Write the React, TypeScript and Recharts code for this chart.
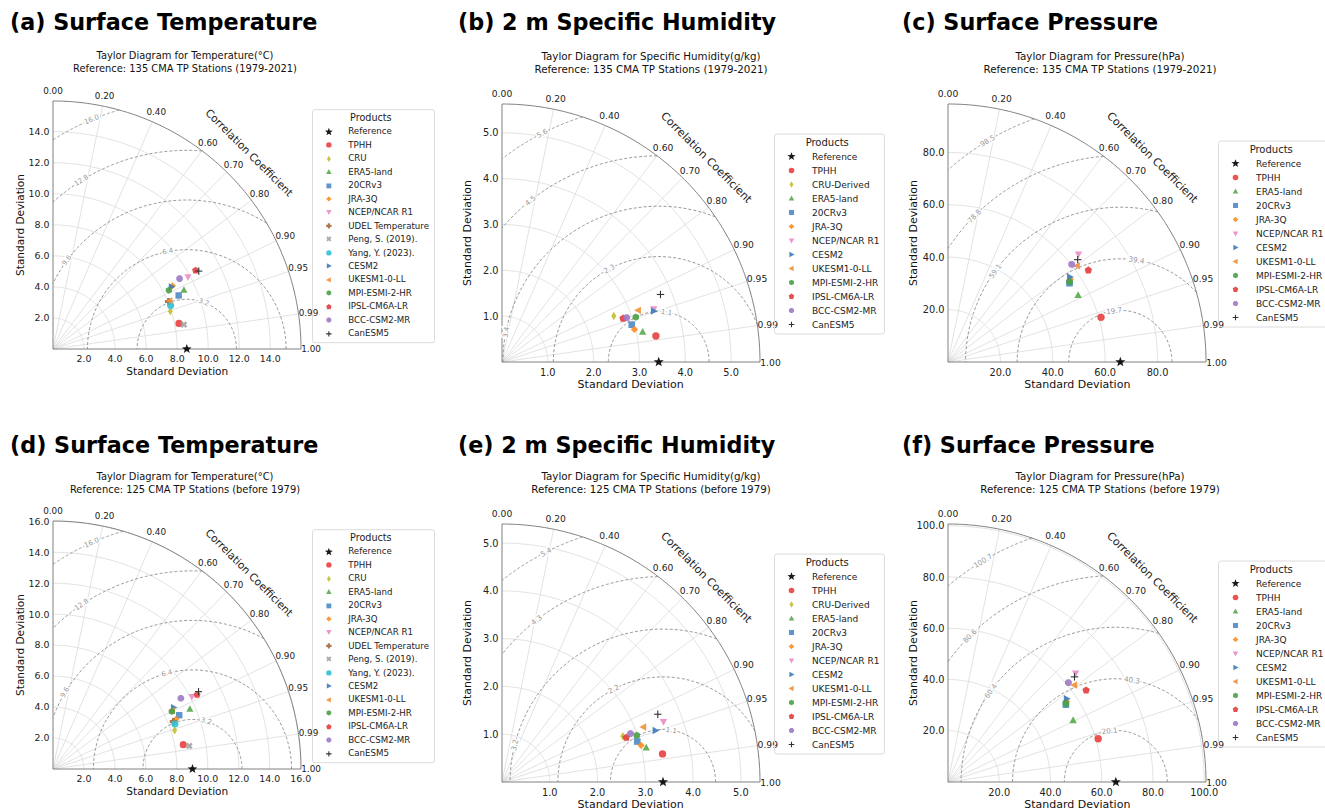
import React from 'react';
import { ComposedChart, Line, Scatter, XAxis, YAxis } from 'recharts';

const FONT = '"DejaVu Sans", "Liberation Sans", sans-serif';

// correlation ticks on the outer arc
const CORR_TICKS = [0, 0.2, 0.4, 0.6, 0.7, 0.8, 0.9, 0.95, 0.99, 1.0];

const TEMP_NAMES = ['TPHH', 'CRU', 'ERA5-land', '20CRv3', 'JRA-3Q', 'NCEP/NCAR R1', 'UDEL Temperature', 'Peng, S. (2019).',
  'Yang, Y. (2023).', 'CESM2', 'UKESM1-0-LL', 'MPI-ESMI-2-HR', 'IPSL-CM6A-LR', 'BCC-CSM2-MR', 'CanESM5'];
const HUM_NAMES = ['TPHH', 'CRU-Derived', 'ERA5-land', '20CRv3', 'JRA-3Q', 'NCEP/NCAR R1', 'CESM2', 'UKESM1-0-LL',
  'MPI-ESMI-2-HR', 'IPSL-CM6A-LR', 'BCC-CSM2-MR', 'CanESM5'];
const PRES_NAMES = ['TPHH', 'ERA5-land', '20CRv3', 'JRA-3Q', 'NCEP/NCAR R1', 'CESM2', 'UKESM1-0-LL', 'MPI-ESMI-2-HR',
  'IPSL-CM6A-LR', 'BCC-CSM2-MR', 'CanESM5'];

// (a) temperature, 1979-2021
const A_REF = 8.62;
const A_MAX = 15.98;
const A_TICKS = [2, 4, 6, 8, 10, 12, 14];
const A_RMS = [3.2, 6.4, 9.6, 12.8, 16.0];
const A_STD = [8.28, 7.94, 9.25, 8.8, 8.71, 9.86, 8.05, 8.58, 8.08, 8.62, 8.14, 8.37, 10.49, 9.33, 10.65];
const A_COR = [0.98, 0.952, 0.912, 0.92, 0.884, 0.882, 0.925, 0.983, 0.938, 0.885, 0.924, 0.892, 0.876, 0.874, 0.882];

// (b) specific humidity, 1979-2021
const B_REF = 3.42;
const B_MAX = 5.63;
const B_TICKS = [1, 2, 3, 4, 5];
const B_RMS = [1.1, 2.3, 3.4, 4.5, 5.6];
const B_STD = [3.406, 2.637, 3.138, 2.946, 2.976, 3.507, 3.491, 3.178, 3.08, 2.806, 2.888, 3.759];
const B_COR = [0.986, 0.925, 0.978, 0.961, 0.971, 0.944, 0.948, 0.935, 0.948, 0.941, 0.942, 0.92];

// (c) surface pressure, 1979-2021
const C_REF = 65.8;
const C_MAX = 98.5;
const C_TICKS = [20, 40, 60, 80];
const C_RMS = [19.7, 39.4, 59.1, 78.8, 98.5];
const C_STD = [60.85, 55.81, 55.31, 56.3, 64.63, 56.73, 61.46, 55.58, 64.02, 60.16, 63.08];
const C_COR = [0.96, 0.89, 0.839, 0.828, 0.771, 0.82, 0.802, 0.835, 0.837, 0.785, 0.785];

// (d) temperature, before 1979
const D_REF = 9.01;
const D_MAX = 16.02;
const D_TICKS = [2, 4, 6, 8, 10, 12, 14, 16];
const D_RMS = [3.2, 6.4, 9.6, 12.8, 16.0];
const D_STD = [8.56, 8.245, 9.654, 8.862, 8.568, 10.117, 8.355, 8.927, 8.397, 8.743, 8.569, 8.529, 10.47, 9.44, 10.647];
const D_COR = [0.983, 0.953, 0.916, 0.92, 0.927, 0.887, 0.93, 0.986, 0.938, 0.891, 0.899, 0.9, 0.889, 0.875, 0.883];

// (e) specific humidity, before 1979
const E_REF = 3.37;
const E_MAX = 5.4;
const E_TICKS = [1, 2, 3, 4, 5];
const E_RMS = [1.1, 2.2, 3.2, 4.3, 5.4];
const E_STD = [3.411, 2.706, 3.102, 2.955, 3.01, 3.607, 3.387, 3.176, 2.985, 2.761, 2.873, 3.556];
const E_COR = [0.985, 0.935, 0.973, 0.958, 0.967, 0.937, 0.948, 0.932, 0.945, 0.942, 0.936, 0.917];

// (f) surface pressure, before 1979
const F_REF = 65.5;
const F_MAX = 100.7;
const F_TICKS = [20, 40, 60, 80, 100];
const F_RMS = [20.1, 40.3, 60.4, 80.6, 100.7];
const F_STD = [60.99, 54.43, 55.03, 55.97, 65.47, 56.57, 62.18, 55.25, 64.71, 60.95, 64.2];
const F_COR = [0.961, 0.897, 0.836, 0.825, 0.761, 0.818, 0.793, 0.833, 0.833, 0.771, 0.769];

const STYLE: Record<string, [string, string]> = {
  'TPHH': ['#e8403f', 'o'],
  'CRU': ['#c4bd2e', 'd'],
  'CRU-Derived': ['#c4bd2e', 'd'],
  'ERA5-land': ['#58a94c', '^'],
  '20CRv3': ['#4c8ac4', 's'],
  'JRA-3Q': ['#ff8c1f', 'D'],
  'NCEP/NCAR R1': ['#ea8cc6', 'v'],
  'UDEL Temperature': ['#a6683f', 'P'],
  'Peng, S. (2019).': ['#a3a3a3', 'X'],
  'Yang, Y. (2023).': ['#31c0d4', 'o'],
  'CESM2': ['#3b7cbf', '>'],
  'UKESM1-0-LL': ['#f2903a', '<'],
  'MPI-ESMI-2-HR': ['#47a046', 'h'],
  'IPSL-CM6A-LR': ['#e23c3c', 'p'],
  'BCC-CSM2-MR': ['#9d79c4', '8'],
  'CanESM5': ['#333333', '+'],
};

const PANELS = [
  { title: '(a) Surface Temperature', sub1: 'Taylor Diagram for Temperature(°C)', sub2: 'Reference: 135 CMA TP Stations (1979-2021)',
    names: TEMP_NAMES, std: A_STD, cor: A_COR, ref: A_REF, max: A_MAX, ticks: A_TICKS, rms: A_RMS,
    pos: { ox: 53.3, oy: 349.3, R: 248, tx: 10, ty: 22, sx: 185, sy: 57, lx: 311.7, rmsAng: [70, 101, 143.5, 122, 112.5] } },
  { title: '(b) 2 m Specific Humidity', sub1: 'Taylor Diagram for Specific Humidity(g/kg)', sub2: 'Reference: 135 CMA TP Stations (1979-2021)',
    names: HUM_NAMES, std: B_STD, cor: B_COR, ref: B_REF, max: B_MAX, ticks: B_TICKS, rms: B_RMS,
    pos: { ox: 501.7, oy: 361.7, R: 258, tx: 458, ty: 22, sx: 651, sy: 57, lx: 774, rmsAng: [81, 118, 169, 128.5, 117] } },
  { title: '(c) Surface Pressure', sub1: 'Taylor Diagram for Pressure(hPa)', sub2: 'Reference: 135 CMA TP Stations (1979-2021)',
    names: PRES_NAMES, std: C_STD, cor: C_COR, ref: C_REF, max: C_MAX, ticks: C_TICKS, rms: C_RMS,
    pos: { ox: 948.3, oy: 361.7, R: 258, tx: 902, ty: 22, sx: 1100, sy: 57, lx: 1218, rmsAng: [97, 81, 144, 135, 121] } },
  { title: '(d) Surface Temperature', sub1: 'Taylor Diagram for Temperature(°C)', sub2: 'Reference: 125 CMA TP Stations (before 1979)',
    names: TEMP_NAMES, std: D_STD, cor: D_COR, ref: D_REF, max: D_MAX, ticks: D_TICKS, rms: D_RMS,
    pos: { ox: 53.3, oy: 769.3, R: 248, tx: 10, ty: 445, sx: 185, sy: 478, lx: 311.7, rmsAng: [74, 105, 149, 124, 114] } },
  { title: '(e) 2 m Specific Humidity', sub1: 'Taylor Diagram for Specific Humidity(g/kg)', sub2: 'Reference: 125 CMA TP Stations (before 1979)',
    names: HUM_NAMES, std: E_STD, cor: E_COR, ref: E_REF, max: E_MAX, ticks: E_TICKS, rms: E_RMS,
    pos: { ox: 501.7, oy: 781.7, R: 258, tx: 458, ty: 445, sx: 651, sy: 477, lx: 774, rmsAng: [81, 118, 166, 128, 117] } },
  { title: '(f) Surface Pressure', sub1: 'Taylor Diagram for Pressure(hPa)', sub2: 'Reference: 125 CMA TP Stations (before 1979)',
    names: PRES_NAMES, std: F_STD, cor: F_COR, ref: F_REF, max: F_MAX, ticks: F_TICKS, rms: F_RMS,
    pos: { ox: 948.3, oy: 781.7, R: 258, tx: 902, ty: 445, sx: 1100, sy: 477, lx: 1218, rmsAng: [97, 81, 144, 135, 121] } },
];

type Pt = { x: number; y: number };

const clampTo = (v: number, max: number) => Math.min(max, Math.max(0, v));

function arcPoints(cx: number, rad: number, a0: number, a1: number, max: number, n = 120): Pt[] {
  const pts: Pt[] = [];
  for (let i = 0; i <= n; i++) {
    const a = a0 + ((a1 - a0) * i) / n;
    pts.push({ x: clampTo(cx + rad * Math.cos(a), max), y: clampTo(rad * Math.sin(a), max) });
  }
  return pts;
}

// part of a centred-RMS circle that lies inside the quarter disc
function rmsArc(ref: number, rho: number, max: number): Pt[] | null {
  const c1 = (max * max - ref * ref - rho * rho) / (2 * ref * rho);
  const a0 = c1 >= 1 ? 0 : Math.acos(Math.max(-1, c1));
  const c2 = -ref / rho;
  const a1 = c2 <= -1 ? Math.PI : Math.acos(c2);
  if (a1 <= a0) return null;
  return arcPoints(ref, rho, a0, a1, max);
}

function Marker({ cx, cy, kind, color, r }: { cx: number; cy: number; kind: string; color: string; r: number }) {
  const poly = (pts: number[][]) => (
    <polygon points={pts.map(([a, b]) => `${cx + a},${cy + b}`).join(' ')} fill={color} fillOpacity={0.9} />
  );
  const ngon = (n: number, rr: number, rot: number) =>
    poly(Array.from({ length: n }, (_, i) => {
      const a = rot + (2 * Math.PI * i) / n;
      return [rr * Math.cos(a), rr * Math.sin(a)];
    }));
  switch (kind) {
    case 'o': return <circle cx={cx} cy={cy} r={r} fill={color} fillOpacity={0.9} />;
    case 'd': return poly([[0, -r * 1.15], [r * 0.7, 0], [0, r * 1.15], [-r * 0.7, 0]]);
    case 'D': return poly([[0, -r], [r, 0], [0, r], [-r, 0]]);
    case '^': return poly([[0, -r * 1.1], [r, r * 0.75], [-r, r * 0.75]]);
    case 'v': return poly([[0, r * 1.1], [r, -r * 0.75], [-r, -r * 0.75]]);
    case '>': return poly([[r * 1.1, 0], [-r * 0.75, -r], [-r * 0.75, r]]);
    case '<': return poly([[-r * 1.1, 0], [r * 0.75, -r], [r * 0.75, r]]);
    case 's': return <rect x={cx - r * 0.9} y={cy - r * 0.9} width={r * 1.8} height={r * 1.8} fill={color} fillOpacity={0.9} />;
    case 'h': return ngon(6, r, -Math.PI / 2);
    case 'p': return ngon(5, r * 1.05, -Math.PI / 2);
    case '8': return ngon(8, r, Math.PI / 8);
    case 'P': {
      const w = r * 0.4;
      return poly([[-w, -r], [w, -r], [w, -w], [r, -w], [r, w], [w, w], [w, r], [-w, r], [-w, w], [-r, w], [-r, -w], [-w, -w]]);
    }
    case 'X': {
      const w = r * 0.35;
      return (
        <g transform={`rotate(45 ${cx} ${cy})`}>
          {poly([[-w, -r], [w, -r], [w, -w], [r, -w], [r, w], [w, w], [w, r], [-w, r], [-w, w], [-r, w], [-r, -w], [-w, -w]])}
        </g>
      );
    }
    case '+':
      return (
        <g stroke={color} strokeWidth={1.1}>
          <line x1={cx - r} y1={cy} x2={cx + r} y2={cy} />
          <line x1={cx} y1={cy - r} x2={cx} y2={cy + r} />
        </g>
      );
    case '*':
      return poly(Array.from({ length: 10 }, (_, i) => {
        const a = -Math.PI / 2 + (Math.PI * i) / 5;
        const rr = i % 2 === 0 ? r * 1.2 : r * 0.5;
        return [rr * Math.cos(a), rr * Math.sin(a)];
      }));
    default: return null;
  }
}

function Panel({ p }: { p: (typeof PANELS)[number] }) {
  const { ox, oy, R } = p.pos;
  const s = R / 258;
  const ml = 10, yw = 40, mt = 40, mr = 90, xh = 20, mb = 10;
  const W = ml + yw + R + mr;
  const H = mt + R + xh + mb;
  const max = p.max;
  const fmt = (v: number) => v.toFixed(1);

  const grid: { key: string; pts: Pt[] }[] = [];
  p.ticks.forEach((t) => { if (t < max) grid.push({ key: 'sd' + t, pts: arcPoints(0, t, 0, Math.PI / 2, max, 90) }); });
  CORR_TICKS.slice(1, -1).forEach((c) => {
    grid.push({ key: 'cc' + c, pts: [{ x: 0, y: 0 }, { x: max * c, y: max * Math.sqrt(1 - c * c) }] });
  });
  const rmsLines = p.rms.map((lv) => ({ key: 'rms' + lv, pts: rmsArc(p.ref, lv, max) })).filter((l) => l.pts);
  const outer = arcPoints(0, max, 0, Math.PI / 2, max, 180);

  const corrLabels = CORR_TICKS.map((c) => ({ x: max * c, y: max * Math.sqrt(1 - c * c), c }));
  const rmsLabels = p.rms.map((lv, i) => {
    const a = (p.pos.rmsAng[i] * Math.PI) / 180;
    return { x: p.ref + lv * Math.cos(a), y: lv * Math.sin(a), lv, ang: p.pos.rmsAng[i] };
  });
  const corrTitle = [{ x: max * Math.SQRT1_2, y: max * Math.SQRT1_2 }];

  const pad = 10.5 * s;
  const renderCorrLabel = (props: any) => {
    const c = props.payload.c;
    const sn = Math.sqrt(1 - c * c);
    return (
      <text x={props.cx + pad * c} y={props.cy - pad * sn} textAnchor="middle" dominantBaseline="central"
        fontSize={9.2 * s} fontFamily={FONT} fill="#222">{c.toFixed(2)}</text>
    );
  };
  const renderRmsLabel = (props: any) => {
    const { lv, ang } = props.payload;
    return (
      <text x={props.cx} y={props.cy} textAnchor="middle" dominantBaseline="central" fontSize={7.2 * s}
        fontFamily={FONT} fill="#999" stroke="#fff" strokeWidth={3} paintOrder="stroke"
        transform={`rotate(${90 - ang} ${props.cx} ${props.cy})`}>{lv.toFixed(1)}</text>
    );
  };
  const renderCorrTitle = (props: any) => {
    const d = 31 * s * Math.SQRT1_2;
    const x = props.cx + d, y = props.cy - d;
    return (
      <text x={x} y={y} textAnchor="middle" dominantBaseline="central" fontSize={11 * s} fontFamily={FONT}
        fill="#222" transform={`rotate(45 ${x} ${y})`}>Correlation Coefficient</text>
    );
  };

  const points = p.names.map((n, i) => ({
    name: n,
    data: [{ x: p.std[i] * p.cor[i], y: p.std[i] * Math.sqrt(1 - p.cor[i] * p.cor[i]) }],
  }));

  const tickStyle = { fill: '#222', fontSize: 9.8 * s, fontFamily: FONT };
  const rowH = 14 * s;

  return (
    <>
      <div style={{ position: 'absolute', left: p.pos.tx, top: p.pos.ty - 12, fontFamily: FONT, fontWeight: 'bold',
        fontSize: 22.3, lineHeight: '24px', whiteSpace: 'nowrap', color: '#000' }}>{p.title}</div>
      <div style={{ position: 'absolute', left: p.pos.sx, top: p.pos.sy - 7, transform: 'translateX(-50%)', fontFamily: FONT,
        fontSize: 10.3 * s, lineHeight: `${13 * s}px`, whiteSpace: 'nowrap', textAlign: 'center', color: '#111' }}>
        <div>{p.sub1}</div>
        <div>{p.sub2}</div>
      </div>
      <div style={{ position: 'absolute', left: ox - ml - yw, top: oy - R - mt }}>
        <ComposedChart width={W} height={H} margin={{ top: mt, right: mr, bottom: mb, left: ml }}>
          <XAxis type="number" dataKey="x" domain={[0, max]} ticks={p.ticks} tickFormatter={fmt} interval={0}
            height={xh} tickLine={false} tickSize={0} tickMargin={7 * s} axisLine={{ stroke: '#808080' }} tick={tickStyle} />
          <YAxis type="number" dataKey="y" domain={[0, max]} ticks={p.ticks} tickFormatter={fmt} interval={0}
            width={yw} tickLine={false} tickSize={0} tickMargin={3.5} axisLine={{ stroke: '#808080' }} tick={tickStyle} />
          {grid.map((g) => (
            <Line key={g.key} data={g.pts} dataKey="y" type="linear" stroke="#dadada" strokeWidth={0.8}
              dot={false} activeDot={false} isAnimationActive={false} legendType="none" />
          ))}
          {rmsLines.map((g) => (
            <Line key={g.key} data={g.pts as Pt[]} dataKey="y" type="linear" stroke="#8c8c8c" strokeWidth={0.9}
              strokeDasharray="3 2" dot={false} activeDot={false} isAnimationActive={false} legendType="none" />
          ))}
          <Line data={outer} dataKey="y" type="linear" stroke="#808080" strokeWidth={1} dot={false} activeDot={false}
            isAnimationActive={false} legendType="none" />
          <Scatter data={rmsLabels} isAnimationActive={false} legendType="none" shape={renderRmsLabel} />
          <Scatter data={corrLabels} isAnimationActive={false} legendType="none" shape={renderCorrLabel} />
          <Scatter data={corrTitle} isAnimationActive={false} legendType="none" shape={renderCorrTitle} />
          <Scatter data={[{ x: p.ref, y: 0 }]} isAnimationActive={false} legendType="none"
            shape={(props: any) => <Marker cx={props.cx} cy={props.cy} kind="*" color="#000" r={4.4 * s} />} />
          {points.map((pt) => {
            const [color, kind] = STYLE[pt.name];
            return (
              <Scatter key={pt.name} data={pt.data} isAnimationActive={false} legendType="none"
                shape={(props: any) => <Marker cx={props.cx} cy={props.cy} kind={kind} color={color} r={3.7 * s} />} />
            );
          })}
        </ComposedChart>
      </div>
      <div style={{ position: 'absolute', left: ox + R / 2, top: oy + 22.4 * s, transform: 'translate(-50%, -50%)',
        fontFamily: FONT, fontSize: 11 * s, whiteSpace: 'nowrap', color: '#111' }}>Standard Deviation</div>
      <div style={{ position: 'absolute', left: ox - 35 * s, top: oy - R / 2, transform: 'translate(-50%, -50%) rotate(-90deg)',
        fontFamily: FONT, fontSize: 11 * s, whiteSpace: 'nowrap', color: '#111' }}>Standard Deviation</div>
      <div style={{ position: 'absolute', left: p.pos.lx, top: oy - R / 2 + 1, transform: 'translateY(-50%)',
        background: 'transparent', border: '1px solid #dcdcdc', borderRadius: 3, fontFamily: FONT, fontSize: 9 * s,
        color: '#222', padding: `0 ${5 * s}px ${2 * s}px 0`, whiteSpace: 'nowrap' }}>
        <div style={{ textAlign: 'center', fontSize: 10 * s, lineHeight: `${rowH}px`, paddingTop: 1 }}>Products</div>
        {[['Reference', '#000', '*'] as [string, string, string]].concat(p.names.map((n) => [n, STYLE[n][0], STYLE[n][1]] as [string, string, string]))
          .map(([n, color, kind]) => (
            <div key={n} style={{ display: 'flex', alignItems: 'center', height: rowH }}>
              <svg width={37 * s} height={rowH} style={{ flex: 'none' }}>
                <Marker cx={16.5 * s} cy={rowH / 2} kind={kind} color={color} r={(kind === '*' ? 3.6 : 2.8) * s} />
              </svg>
              <span>{n}</span>
            </div>
          ))}
      </div>
    </>
  );
}

export default function App() {
  return (
    <div style={{ position: 'absolute', left: 0, top: 0, width: 1325, height: 810, background: '#fff', overflow: 'hidden' }}>
      {PANELS.map((p) => <Panel key={p.title + p.sub2} p={p} />)}
    </div>
  );
}
